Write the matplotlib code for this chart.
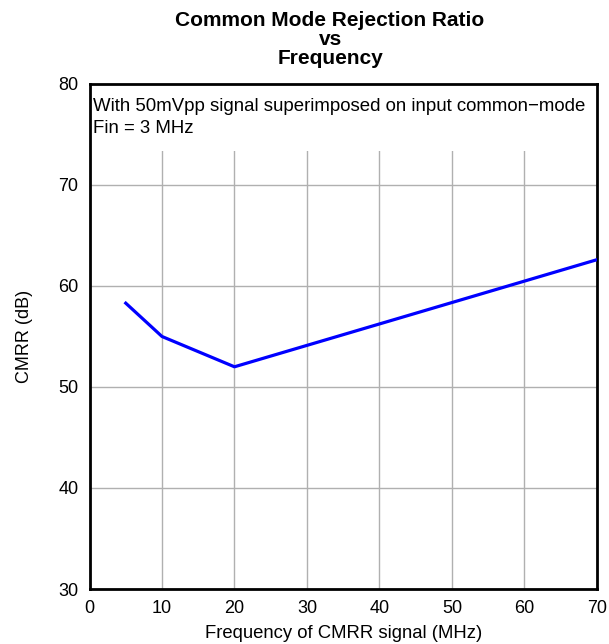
import matplotlib

matplotlib.use("Agg")
import matplotlib.pyplot as plt  # noqa: E402
from matplotlib.patches import Rectangle  # noqa: E402

plt.rcParams["font.family"] = ["Liberation Sans", "DejaVu Sans"]

# Data
freq_mhz = [5, 10, 20, 70]
cmrr_db = [58.3, 55.0, 52.0, 62.6]

x_ticks = [0, 10, 20, 30, 40, 50, 60, 70]
y_ticks = [30, 40, 50, 60, 70, 80]

fig = plt.figure(figsize=(6.09, 6.44), dpi=100)
ax = fig.add_axes([0.147, 0.0854, 0.833, 0.7842])

ax.plot(freq_mhz, cmrr_db, color="#0000ff", lw=2.3, zorder=3)

ax.set_xlim(0, 70)
ax.set_ylim(30, 80)
ax.set_xticks(x_ticks)
ax.set_yticks(y_ticks)
ax.tick_params(length=0, labelsize=13)
ax.tick_params(axis="x", pad=8)
ax.tick_params(axis="y", pad=8)
ax.grid(color="#b0b0b0", lw=1, zorder=0)
ax.set_axisbelow(True)
for sp in ax.spines.values():
    sp.set_linewidth(2)

# white note box over the top of the grid
ax.add_patch(Rectangle((0, 0.868), 1, 0.132, transform=ax.transAxes,
                       facecolor="white", edgecolor="none", zorder=2))
ax.text(0.007, 0.972, "With 50mVpp signal superimposed on input common\u2212mode\nFin = 3 MHz",
        transform=ax.transAxes, ha="left", va="top", fontsize=13.4,
        linespacing=1.4, zorder=4)

ax.set_xlabel("Frequency of CMRR signal (MHz)", fontsize=13.3, labelpad=6)
ax.set_ylabel("CMRR (dB)", fontsize=13, labelpad=18)

fig.text(0.542, 0.983, "Common Mode Rejection Ratio\nvs\nFrequency",
         ha="center", va="top", fontsize=15, fontweight="bold", linespacing=1.0)

fig.savefig("out.png", dpi=100)
